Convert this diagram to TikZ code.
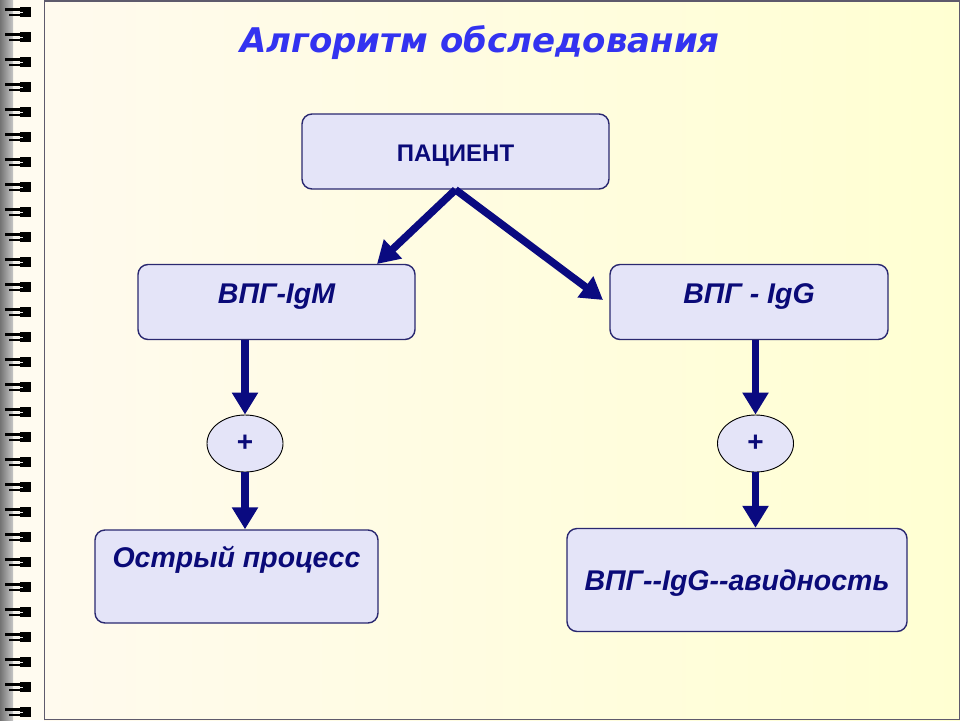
\documentclass[tikz,border=0pt]{standalone}
\usepackage{fontspec}
\setmainfont{Liberation Sans}
\newfontfamily\titlefont{DejaVu Sans}
\usetikzlibrary{arrows.meta,shapes.geometric}
\definecolor{arrowblue}{HTML}{0A0A80}
\definecolor{textnavy}{HTML}{0A0A78}
\definecolor{boxfill}{HTML}{E4E4F8}
\definecolor{boxline}{HTML}{2A2870}
\definecolor{titleblue}{HTML}{3333F0}
\definecolor{pageleft}{HTML}{FFFAEE}
\definecolor{pageright}{HTML}{FFFFD2}
\definecolor{pageborder}{HTML}{5E5A6C}
\definecolor{stripcream}{HTML}{FFFBF0}
\tikzset{
  box/.style={draw=boxline, fill=boxfill, rounded corners=10pt, line width=1.4pt, inner sep=0pt},
  oval/.style={ellipse, draw=black, fill=boxfill, line width=0.9pt, inner sep=0pt,
    minimum width=76pt, minimum height=57pt, text=textnavy,
    font=\bfseries\fontsize{28}{28}\selectfont},
  boxtext/.style={anchor=base, text=textnavy, font=\bfseries\itshape\fontsize{28.5}{28.5}\selectfont},
  arr/.style={draw=arrowblue, line width=7.5pt, -{Triangle[length=22pt,width=25pt]}},
}
\begin{document}
\begin{tikzpicture}[x=1pt,y=-1pt]
\useasboundingbox (0,0) rectangle (960,720);
% background and binding
\fill[stripcream] (0,0) rectangle (44,720);
\shade[left color=black!55, right color=black!22] (0,0) rectangle (13,720);
\shade[left color=pageleft, right color=pageright] (44,0) rectangle (960,720);
\draw[pageborder, line width=1.5pt] (44.5,720) -- (44.5,0.75) -- (959.25,0.75) -- (959.25,719.25) -- (44.5,719.25);
\foreach \yy in {12,37,...,712}{
  \fill[black] ({20},{\yy-5}) rectangle ({31},{\yy+5});
  \draw[black, line width=2.2pt] ({5},{\yy-2.5}) -- ({21},{\yy-2.5});
  \draw[black, line width=2pt] ({9},{\yy+3}) -- ({21},{\yy+3});
  \fill[white!85!gray] ({13},{\yy}) rectangle ({23},{\yy+1.4});
}
% title
\node[anchor=base, text=titleblue, font=\titlefont\bfseries\itshape\fontsize{34}{34}\selectfont] (title) at (480,52) {Алгоритм обследования};
% boxes
\node[box, minimum width=307pt, minimum height=75pt] (pat) at (455.5,151.5) {};
\node[anchor=base, text=textnavy, font=\bfseries\fontsize{24}{24}\selectfont] (patT) at (455.5,161) {ПАЦИЕНТ};
\node[box, minimum width=277pt, minimum height=75pt] (igm) at (276.5,302) {};
\node[boxtext] (igmT) at (276.5,303) {ВПГ-IgM};
\node[box, minimum width=278pt, minimum height=75pt] (igg) at (749,302) {};
\node[boxtext] (iggT) at (749,303) {ВПГ - IgG};
\node[oval] (e1) at (245,443.5) {+};
\node[oval] (e2) at (755.5,443.5) {+};
\node[box, minimum width=283pt, minimum height=93pt] (acute) at (236.5,576.5) {};
\node[boxtext] (acuteT) at (236.5,567) {Острый процесс};
\node[box, minimum width=340pt, minimum height=103pt] (avid) at (737,580) {};
\node[boxtext] (avidT) at (737,590) {ВПГ-{}-IgG-{}-авидность};
% connectors
\coordinate (tipL) at (377,264);
\coordinate (tipR) at (603,300);
\draw[arr] (pat.south) -- (tipL);
\draw[arr] (pat.south) -- (tipR);
\draw[arr] (e1.north |- igm.south) -- (e1.north);
\draw[arr] (e1.south) -- (e1.south |- acute.north);
\draw[arr] (e2.north |- igg.south) -- (e2.north);
\draw[arr] (e2.south) -- (e2.south |- avid.north);
\end{tikzpicture}
\end{document}
